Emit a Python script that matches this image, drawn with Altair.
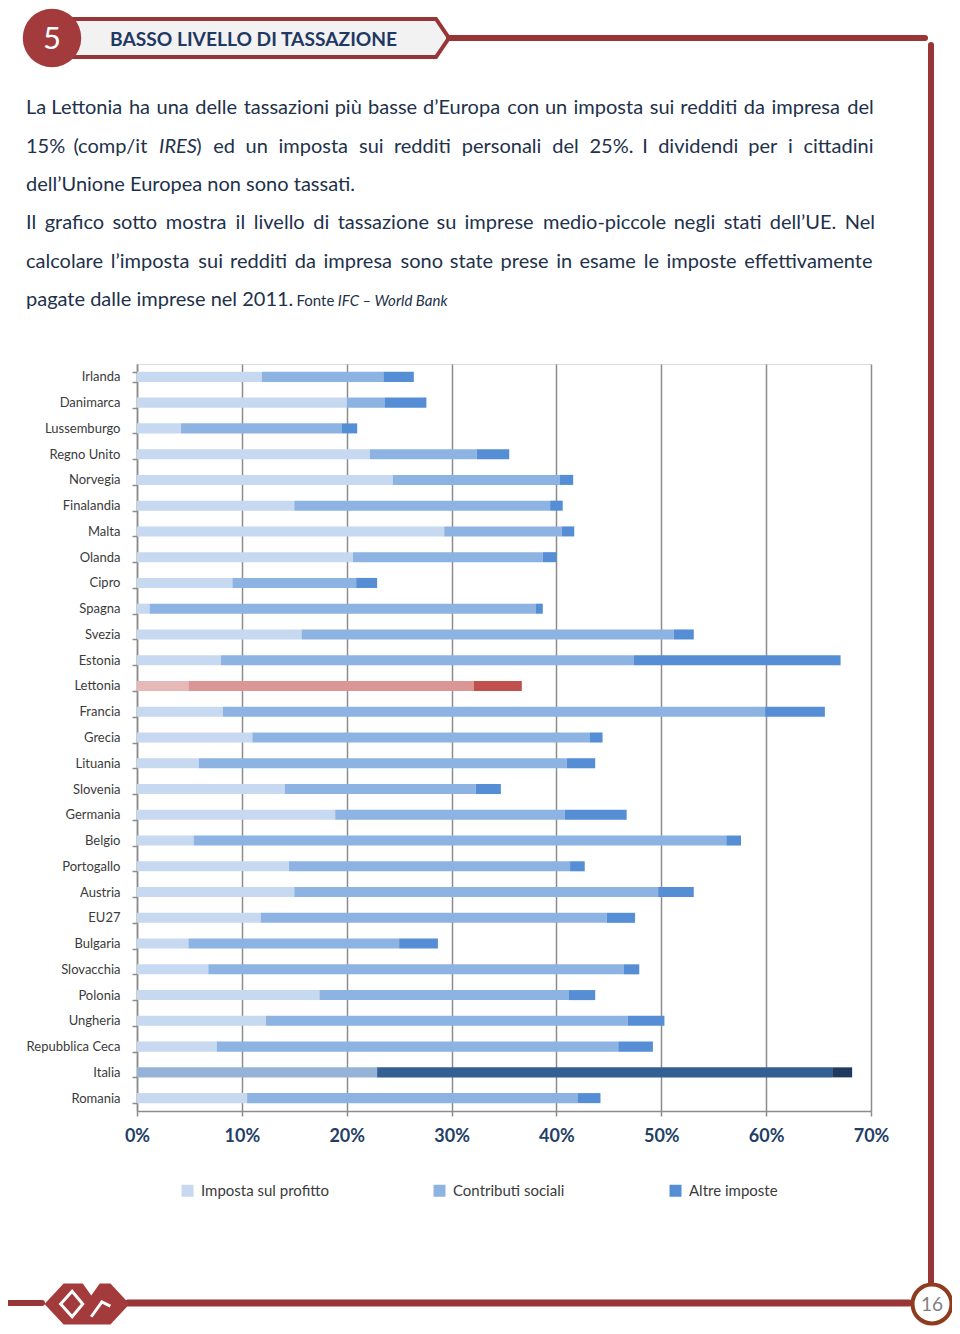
import altair as alt
import pandas as pd

# ---------------- data ----------------
countries = ["Irlanda", "Danimarca", "Lussemburgo", "Regno Unito", "Norvegia", "Finalandia",
             "Malta", "Olanda", "Cipro", "Spagna", "Svezia", "Estonia", "Lettonia", "Francia",
             "Grecia", "Lituania", "Slovenia", "Germania", "Belgio", "Portogallo", "Austria",
             "EU27", "Bulgaria", "Slovacchia", "Polonia", "Ungheria", "Repubblica Ceca",
             "Italia", "Romania"]
profit = [11.9, 20.0, 4.2, 22.2, 24.4, 15.0, 29.3, 20.6, 9.1, 1.2, 15.7, 8.0, 4.9, 8.2,
          11.0, 5.9, 14.1, 18.9, 5.4, 14.5, 15.0, 11.8, 4.9, 6.8, 17.4, 12.3, 7.6, 22.9, 10.5]
social = [11.6, 3.6, 15.3, 10.2, 15.9, 24.4, 11.2, 18.1, 11.8, 36.8, 35.5, 39.4, 27.2, 51.7,
          32.2, 35.1, 18.2, 21.9, 50.8, 26.8, 34.7, 33.0, 20.1, 39.6, 23.8, 34.5, 38.3, 43.4, 31.5]
other = [2.9, 4.0, 1.5, 3.1, 1.3, 1.2, 1.2, 1.3, 2.0, 0.7, 1.9, 19.7, 4.6, 5.7,
         1.2, 2.7, 2.4, 5.9, 1.4, 1.4, 3.4, 2.7, 3.7, 1.5, 2.5, 3.5, 3.3, 1.9, 2.2]
components = ["Imposta sul profitto", "Contributi sociali", "Altre imposte"]
x_ticks = [0, 10, 20, 30, 40, 50, 60, 70]
highlight = ["Lettonia", "Italia"]

rows = []
for c, p, s, o in zip(countries, profit, social, other):
    start = 0.0
    for comp, v in zip(components, (p, s, o)):
        rows.append({"Paese": c, "Componente": comp, "Valore": v,
                     "start": round(start, 3), "end": round(start + v, 3)})
        start += v
bars = pd.DataFrame(rows)

# ---------------- styles / layout ----------------
BLUES = ["#C6D9F1", "#8DB3E2", "#558ED5"]
REDS = ["#E6B9B8", "#D99694", "#C0504D"]
NAVY = ["#95B3D7", "#335F93", "#1F3A5F"]
RED = "#983537"
GRID = "#8c8c8c"
TXT = "#22314A"
FONT = "Lato"

OX, OY = 137, 364          # page position of plot origin
W, H = 734, 747


def X(px):
    return px - OX


def Y(py):
    return py - OY


one = pd.DataFrame({"k": [0]})


def rule(x1, y1, x2, y2, color=RED, w=6, cap="round"):
    return alt.Chart(one).mark_rule(color=color, strokeWidth=w, strokeCap=cap).encode(
        x=alt.value(X(x1)), y=alt.value(Y(y1)), x2=alt.value(X(x2)), y2=alt.value(Y(y2)))


def text(s, x, y, size, color=TXT, weight="normal", style="normal", align="left",
         baseline="alphabetic", font=FONT):
    return alt.Chart(one).mark_text(text=s, font=font, fontSize=size, fontWeight=weight,
                                    fontStyle=style, color=color, align=align,
                                    baseline=baseline).encode(
        x=alt.value(X(x)), y=alt.value(Y(y)))


def symbol(x, y, size, shape, fill=None, stroke=None, sw=0):
    kw = dict(shape=shape, size=size, strokeWidth=sw, opacity=1)
    if fill:
        kw.update(filled=True, fill=fill, fillOpacity=1)
    else:
        kw.update(filled=False)
    if stroke:
        kw.update(stroke=stroke, strokeOpacity=1)
    return alt.Chart(one).mark_point(**kw).encode(x=alt.value(X(x)), y=alt.value(Y(y)))


# ---------------- bars ----------------
yscale = alt.Scale(domain=countries, paddingInner=0.61, paddingOuter=0.305)
xscale = alt.Scale(domain=[0, 70], nice=False, zero=True)

base = alt.Chart(bars)
main = base.transform_filter(
    ~alt.FieldOneOfPredicate(field="Paese", oneOf=highlight)
).mark_bar().encode(
    x=alt.X("start:Q", scale=xscale, axis=alt.Axis(
        values=x_ticks, labelExpr="datum.value + '%'", title=None, grid=True,
        gridColor=GRID, gridWidth=1.5, domainColor=GRID, domainWidth=1.5,
        tickColor=GRID, tickWidth=1.5, tickSize=5, labelPadding=11,
        labelFont=FONT, labelFontSize=18, labelFontWeight="bold",
        labelColor="#243F66", labelFlush=False)),
    x2="end:Q",
    y=alt.Y("Paese:N", scale=yscale, sort=countries, axis=alt.Axis(
        title=None, tickBand="extent", tickSize=5, labelPadding=12, grid=False,
        domainColor=GRID, domainWidth=1.5, tickColor=GRID, tickWidth=1.5,
        labelFont=FONT, labelFontSize=13, labelColor="#3b3b3b")),
    color=alt.Color("Componente:N", scale=alt.Scale(domain=components, range=BLUES),
                    legend=alt.Legend(title=None, orient="none", legendX=43, legendY=819,
                                      direction="horizontal", columns=3,
                                      symbolType="square", symbolSize=144,
                                      symbolStrokeWidth=0, labelFont=FONT,
                                      labelFontSize=15, labelColor="#3b3b3b",
                                      labelOffset=6, columnPadding=103, padding=0)),
)


def hl(country, palette):
    return base.transform_filter(alt.datum.Paese == country).mark_bar().encode(
        x=alt.X("start:Q", scale=xscale), x2="end:Q",
        y=alt.Y("Paese:N", scale=yscale, sort=countries),
        color=alt.Color("Componente:N", scale=alt.Scale(domain=components, range=palette),
                        legend=None))


lett = hl("Lettonia", REDS)
ital = hl("Italia", NAVY)

# ---------------- page decorations ----------------
deco = []
# header tab (grey band with red border and arrow tip)
deco.append(symbol(259.5, 38, 1444,
                   "M -9.97 -1 L 9.29 -1 L 9.97 0 L 9.29 1 L -9.97 1 Z",
                   fill="#F2F2F2", stroke=RED, sw=4))
deco.append(rule(449, 38, 925, 38, w=6))
deco.append(rule(931, 45, 931, 1282, w=6))
deco.append(symbol(52, 38, 3421, "circle", fill="#A33A3C"))
deco.append(text("5", 52, 49, 31, color="white", align="center"))
deco.append(text("BASSO LIVELLO DI TASSAZIONE", 110, 46, 19.2, color="#1F3864",
                 weight="bold"))

# footer
deco.append(rule(6, 1303, 42, 1303, w=6))
deco.append(rule(128, 1303, 909, 1303, w=7))
deco.append(symbol(87, 1304, 7225,
                   "M -1 0 L -0.55 -0.48 L -0.1 -0.48 L 0.1 -0.2 L 0.3 -0.48 L 0.55 -0.48 "
                   "L 1 0 L 0.55 0.48 L -0.55 0.48 Z", fill="#A33A3C"))
deco.append(symbol(87, 1304, 7225,
                   "M -0.62 0 L -0.35 -0.3 L -0.1 0 L -0.35 0.3 Z M 0.1 0.3 L 0.35 -0.05 L 0.55 0.05",
                   stroke="white", sw=3))
deco.append(symbol(932, 1304, 1520, "circle", fill="white", stroke="#8E3B1E", sw=4))
deco.append(text("16", 932, 1311, 19, color="#808080", align="center"))

# paragraph text: Calibri-like metrics used for justification
CAL = dict(a=479, b=525, c=423, d=525, e=498, f=305, g=471, h=525, i=229, j=239, k=455,
           l=229, m=799, n=525, o=527, p=525, q=525, r=349, s=391, t=335, u=525, v=452,
           w=715, x=433, y=453, z=395, A=579, B=544, C=533, D=615, E=488, F=459, G=631,
           H=623, I=252, J=319, K=520, L=420, M=855, N=646, O=662, P=517, Q=673, R=543,
           S=459, T=487, U=653, V=567, W=890, X=519, Y=487, Z=468)
CAL.update({"’": 250, "ù": 525, "–": 498, "%": 715, ".": 252, "(": 303, ")": 303,
            "/": 386, "-": 306, " ": 226})
for dgt in "0123456789":
    CAL[dgt] = 507

CAL_FS = 21.3
P_FS = 20
LEFT, RIGHT = 26, 874


def cw(s, fs=CAL_FS):
    return sum(CAL.get(ch, 500) for ch in s) / 1000 * fs


def justified(words, ybase):
    segs_list = [w if isinstance(w, list) else [(w, "normal")] for w in words]
    widths = [sum(cw(s) for s, _ in segs) for segs in segs_list]
    gap = (RIGHT - LEFT - sum(widths)) / (len(words) - 1)
    x = LEFT
    out = []
    for segs, wd in zip(segs_list, widths):
        xx = x
        for s, st in segs:
            out.append(text(s, xx, ybase, P_FS, style=st))
            xx += cw(s)
        x += wd + gap
    return out


line1 = "La Lettonia ha una delle tassazioni più basse d’Europa con un imposta sui redditi da impresa del".split()
line2 = ["15%", "(comp/it", [("IRES", "italic"), (")", "normal")], "ed", "un", "imposta",
         "sui", "redditi", "personali", "del", "25%.", "I", "dividendi", "per", "i", "cittadini"]
line4 = "Il grafico sotto mostra il livello di tassazione su imprese medio-piccole negli stati dell’UE. Nel".split()
line5 = "calcolare l’imposta sui redditi da impresa sono state prese in esame le imposte effettivamente".split()

deco += justified(line1, 114)
deco += justified(line2, 153)
deco.append(text("dell’Unione Europea non sono tassati.", LEFT, 191, P_FS))
deco += justified(line4, 229)
deco += justified(line5, 268)
l6 = "pagate dalle imprese nel 2011."
deco.append(text(l6, LEFT, 306, P_FS))
xf = LEFT + cw(l6) + cw(" ")
deco.append(text("Fonte", xf, 306, 15))
deco.append(text("IFC – World Bank", xf + cw("Fonte ", 16.1), 306, 15, style="italic"))

chart = alt.layer(*deco[:3], main, lett, ital, *deco[3:]).resolve_scale(
    color="independent"
).properties(
    width=W, height=H,
    autosize=alt.AutoSizeParams(type="none"),
    padding={"left": OX - 8, "top": OY - 8, "right": 944 - (OX - 8) - W,
             "bottom": 1318 - (OY - 8) - H},
).configure_view(stroke=None).configure(background="white")

chart.save("out.html", embed_options={"renderer": "svg", "actions": False})
